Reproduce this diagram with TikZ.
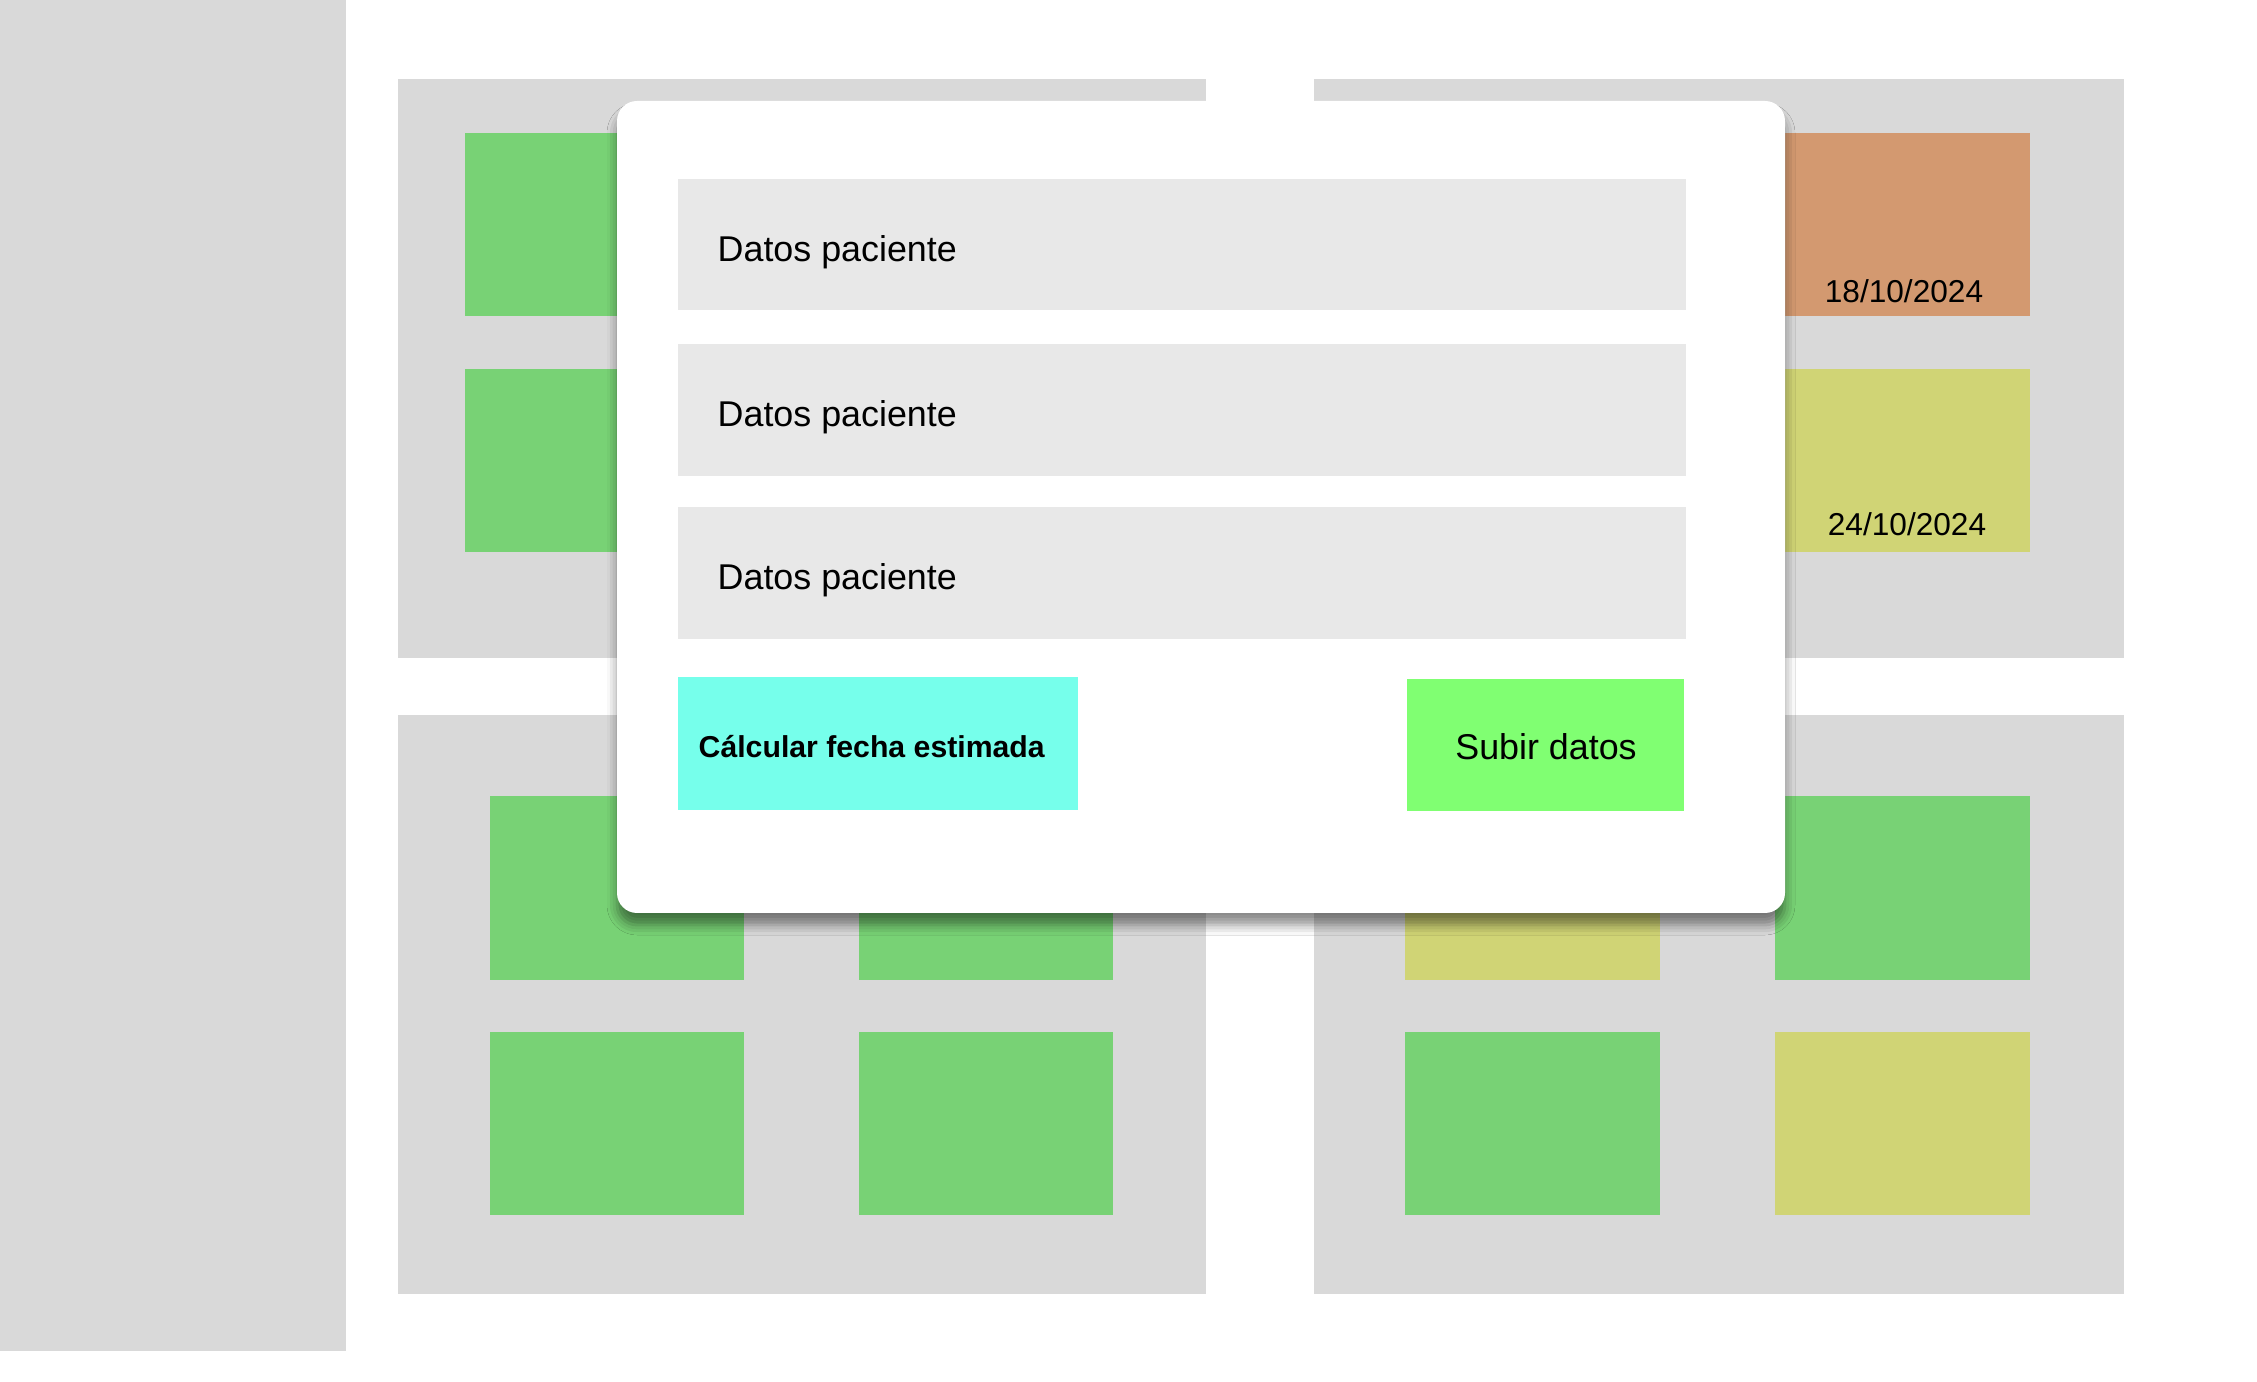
\documentclass[tikz,border=0pt]{standalone}
\usepackage{fontspec}
\setmainfont{Liberation Sans}
\usetikzlibrary{shadows.blur}

\definecolor{panelgray}{HTML}{D9D9D9}
\definecolor{fieldgray}{HTML}{E8E8E8}
\definecolor{okgreen}{HTML}{78D275}
\definecolor{lateorange}{HTML}{D39970}
\definecolor{soonyellow}{HTML}{D0D475}
\definecolor{calccyan}{HTML}{76FFEB}
\definecolor{subirgreen}{HTML}{80FF72}

\begin{document}
\begin{tikzpicture}[x=0.1mm,y=-0.1mm,
  lbl/.style={inner sep=0pt,font=\fontsize{10.2}{12}\selectfont},
  datelbl/.style={inner sep=0pt,font=\fontsize{9}{11}\selectfont},
  dialog/.style={fill=white,rounded corners=2mm,
    blur shadow={shadow xshift=0mm,shadow yshift=-1.2mm,shadow blur radius=1mm,shadow opacity=45}}]
\fill[white] (0,0) rectangle (2257,1382);
\useasboundingbox (0,0) rectangle (2257,1382);
% sidebar and panels
\fill[panelgray] (0,0) rectangle (346,1351);
\fill[panelgray] (398,79) rectangle (1206,658);
\fill[panelgray] (1314,79) rectangle (2124,658);
\fill[panelgray] (398,715) rectangle (1206,1294);
\fill[panelgray] (1314,715) rectangle (2124,1294);
% top panels
\fill[okgreen] (465,133) rectangle (723,316);
\fill[okgreen] (465,369) rectangle (723,552);
\fill[lateorange] (1772,133) rectangle (2030,316);
\fill[soonyellow] (1772,369) rectangle (2030,552);
% bottom panels
\fill[okgreen] (490,796) rectangle (744,980);
\fill[okgreen] (859,796) rectangle (1113,980);
\fill[okgreen] (490,1032) rectangle (744,1215);
\fill[okgreen] (859,1032) rectangle (1113,1215);
\fill[soonyellow] (1405,796) rectangle (1660,980);
\fill[okgreen] (1775,796) rectangle (2030,980);
\fill[okgreen] (1405,1032) rectangle (1660,1215);
\fill[soonyellow] (1775,1032) rectangle (2030,1215);
\node[datelbl,anchor=base] (fecha1) at (1904,303) {18/10/2024};
\node[datelbl,anchor=base] (fecha2) at (1907,536) {24/10/2024};
% dialog
\path[dialog] (617,101) rectangle (1785,913);
\fill[fieldgray] (678,179) rectangle (1686,310);
\fill[fieldgray] (678,344) rectangle (1686,476);
\fill[fieldgray] (678,507) rectangle (1686,639);
\node[lbl,anchor=base west] (dato1) at (717,262) {Datos paciente};
\node[lbl,anchor=base west] (dato2) at (717,427) {Datos paciente};
\node[lbl,anchor=base west] (dato3) at (717,590) {Datos paciente};
\fill[calccyan] (678,677) rectangle (1078,810);
\fill[subirgreen] (1407,679) rectangle (1684,811);
\node[inner sep=0pt,font=\bfseries\fontsize{8.6}{10}\selectfont,anchor=base west] (calc) at (698,758) {Cálcular fecha estimada};
\node[lbl,anchor=base] (subir) at (1546,760) {Subir datos};
\end{tikzpicture}
\end{document}
